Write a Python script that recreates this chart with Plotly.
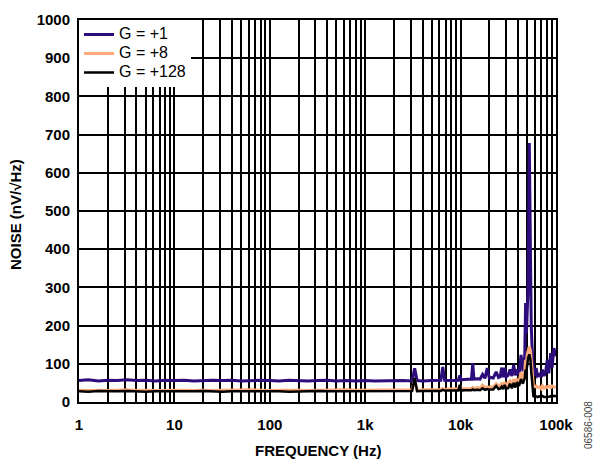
import plotly.graph_objects as go

# Voltage noise spectral density vs. frequency for three gain settings
freq_hz = [
    1, 1.25, 1.6, 2, 2.5, 3.2, 4, 5, 6.3, 8,
    10, 12.5, 16, 20, 25, 32, 40, 50, 63, 80,
    100, 125, 160, 200, 250, 320, 400, 500, 630, 800,
    1000, 1250, 1600, 2000, 2500, 3100, 3300, 3500, 4000, 5000,
    6200, 6500, 6800, 8000, 9500, 9800, 10100, 11000, 12000, 13000,
    13400, 13800, 15000, 16000, 17000, 18000, 19000, 20000, 21000, 22000,
    23600, 25000, 26000, 27000, 28000, 29000, 30000, 31500, 33000, 34500,
    36000, 37500, 39000, 41000, 43000, 45000, 47000, 48000, 49000, 50000,
    51000, 52500, 54000, 55000, 56000, 57000, 58000, 60000, 62000, 64000,
    67000, 70000, 72000, 75000, 78000, 81000, 84000, 88000, 91000, 95000,
    100000,
]

noise_g1 = [
    56, 58, 55, 57, 56, 58, 56, 57, 55, 57,
    56, 57, 55, 56, 57, 56, 57, 55, 56, 57,
    56, 55, 57, 56, 55, 56, 57, 55, 56, 55,
    56, 55, 56, 55, 56, 55, 88, 56, 55, 56,
    57, 92, 57, 56, 57, 70, 58, 59, 60, 60,
    102, 60, 61, 60, 72, 62, 89, 62, 64, 63,
    79, 64, 66, 90, 65, 90, 66, 70, 85, 68,
    97, 70, 85, 72, 123, 80, 120, 259, 180, 240,
    300, 678, 260, 200, 150, 100, 75, 70, 89, 68,
    72, 65, 85, 68, 80, 110, 75, 128, 90, 141,
    120,
]

noise_g8 = [
    31, 30, 31, 30, 31, 32, 30, 31, 30, 31,
    30, 31, 30, 31, 30, 31, 30, 31, 32, 31,
    30, 31, 32, 31, 30, 31, 32, 31, 32, 31,
    31, 31, 32, 31, 31, 32, 58, 31, 32, 32,
    33, 35, 33, 34, 34, 42, 34, 35, 36, 35,
    38, 36, 37, 36, 44, 38, 40, 38, 40, 39,
    48, 42, 41, 50, 42, 52, 43, 48, 55, 45,
    60, 48, 58, 52, 78, 58, 80, 110, 100, 125,
    135, 145, 135, 110, 80, 55, 42, 40, 42, 38,
    40, 35, 42, 36, 40, 38, 42, 38, 42, 40,
    38,
]

noise_g128 = [
    28, 27, 29, 28, 28, 29, 28, 27, 28, 28,
    27, 28, 28, 29, 28, 27, 28, 28, 29, 28,
    28, 28, 27, 28, 28, 29, 28, 28, 29, 28,
    28, 28, 29, 28, 29, 29, 63, 28, 29, 30,
    29, 32, 30, 30, 30, 45, 30, 31, 30, 31,
    33, 31, 32, 31, 36, 32, 34, 32, 33, 33,
    42, 34, 35, 40, 34, 45, 35, 36, 48, 36,
    50, 38, 52, 42, 60, 48, 62, 85, 80, 100,
    115, 125, 110, 80, 50, 25, 15, 14, 15, 13,
    15, 14, 16, 13, 14, 15, 14, 15, 14, 16,
    15,
]

series_names = ["G = +1", "G = +8", "G = +128"]
series_colors = ["#2d0c7c", "#fbaa78", "#000000"]
series_widths = [3, 3, 2.5]

# Log-axis grid: a line at every 1..9 multiple of each decade, labels on decades only
decades = [1, 10, 100, 1000, 10000, 100000]
decade_labels = ["1", "10", "100", "1k", "10k", "100k"]
y_ticks = [0, 100, 200, 300, 400, 500, 600, 700, 800, 900, 1000]

x_tickvals, x_ticktext = [], []
for d, lab in zip(decades, decade_labels):
    steps = range(1, 10) if d < decades[-1] else [1]
    for m in steps:
        x_tickvals.append(d * m)
        x_ticktext.append(lab if m == 1 else "")

FONT = "Liberation Sans, Arial, Helvetica, sans-serif"

fig = go.Figure()
for vals, name, color, width in zip(
    [noise_g1, noise_g8, noise_g128], series_names, series_colors, series_widths
):
    fig.add_trace(
        go.Scatter(
            x=freq_hz,
            y=vals,
            mode="lines",
            # larger glyphs inside a compact legend row
            name=f'<span style="font-size:16px">{name}</span>',
            line=dict(color=color, width=width),
        )
    )

axis_common = dict(
    showline=True,
    linecolor="black",
    linewidth=2,
    mirror=True,
    showgrid=True,
    gridcolor="black",
    gridwidth=1.5,
    zeroline=False,
    ticks="",
    tickfont=dict(family=FONT, size=15, color="black", weight="bold"),
)

fig.update_layout(
    width=594,
    height=459,
    margin=dict(l=79, r=38, t=20, b=57),
    paper_bgcolor="white",
    plot_bgcolor="white",
    showlegend=True,
    legend=dict(
        x=0,
        y=1,
        xanchor="left",
        yanchor="top",
        bgcolor="white",
        borderwidth=0,
        font=dict(family=FONT, size=12, color="black"),
        tracegroupgap=0,
    ),
    xaxis=dict(
        type="log",
        range=[0, 5],
        tickmode="array",
        tickvals=x_tickvals,
        ticktext=x_ticktext,
        ticklabelstandoff=8,
        **axis_common,
    ),
    yaxis=dict(
        range=[0, 1000],
        tickmode="array",
        tickvals=y_ticks,
        ticktext=[str(v) for v in y_ticks],
        ticklabelstandoff=4,
        **axis_common,
    ),
    annotations=[
        dict(
            text="FREQUENCY (Hz)",
            xref="paper", yref="paper",
            x=0.5, y=0,
            xanchor="center", yanchor="middle",
            yshift=-48,
            showarrow=False,
            font=dict(family=FONT, size=15, color="black", weight="bold"),
        ),
        dict(
            text="NOISE (nV/√Hz)",
            xref="paper", yref="paper",
            x=0, y=0.5,
            xanchor="center", yanchor="middle",
            xshift=-64, yshift=-4,
            textangle=-90,
            showarrow=False,
            font=dict(family=FONT, size=15, color="black", weight="bold"),
        ),
        dict(
            text="06586-008",
            xref="paper", yref="paper",
            x=1, y=0,
            xanchor="center", yanchor="middle",
            xshift=32, yshift=-23,
            textangle=-90,
            showarrow=False,
            font=dict(family=FONT, size=10, color="#444444"),
        ),
    ],
)

fig.write_html("out.html")
